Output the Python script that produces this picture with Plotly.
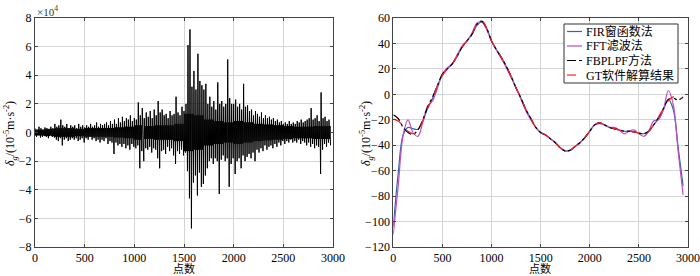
import plotly.graph_objects as go
from plotly.subplots import make_subplots

# ---------------- left: raw signal (units of 1e4) ----------------
sig_step = 20
sig_upper = [
    0.3,0.2,0.4,0.3,0.2,0.35,0.3,0.25,0.4,0.3,
    0.6,0.4,0.5,0.9,0.5,0.4,0.6,0.3,0.5,0.4,
    0.5,0.3,0.6,0.4,0.5,0.35,0.5,0.4,0.6,0.4,
    0.5,0.7,0.4,0.6,0.5,0.6,0.7,0.5,0.8,0.6,
    0.9,0.6,1.0,0.7,1.1,0.8,1.0,0.9,1.2,0.8,
    1.0,0.9,2.1,1.2,1.7,1.0,1.4,1.1,1.5,1.0,
    1.6,1.2,2.2,1.4,1.6,1.2,1.3,1.0,1.5,1.2,
    1.3,2.5,1.4,1.2,1.8,1.5,2.0,6.1,7.2,3.2,
    4.3,3.0,5.5,3.6,3.3,3.0,3.4,2.0,2.5,1.8,
    2.2,1.6,3.5,2.0,2.2,1.8,2.0,5.1,2.4,2.0,
    2.0,2.3,1.8,2.0,1.6,3.4,1.8,1.9,1.5,1.6,
    1.2,1.5,1.3,1.1,1.4,1.0,1.2,1.0,1.1,0.9,
    1.0,0.8,0.9,0.7,0.8,0.6,0.7,0.6,0.8,0.6,
    0.7,0.6,0.8,0.7,0.9,0.7,0.8,0.9,1.0,1.7,
    0.9,1.0,1.2,0.8,2.8,1.0,1.1,0.8,0.9,
]
sig_lower = [
    -0.3,-0.2,-0.35,-0.3,-0.25,-0.3,-0.4,-0.2,-0.3,-0.35,
    -0.5,-0.6,-0.4,-0.9,-0.5,-0.4,-0.6,-0.5,-0.4,-0.5,
    -0.4,-0.6,-0.5,-0.4,-0.7,-0.4,-0.5,-0.3,-0.5,-0.4,
    -0.6,-0.5,-0.7,-0.5,-0.6,-0.4,-0.8,-0.6,-0.7,-1.5,
    -0.7,-0.9,-0.8,-1.0,-0.8,-1.1,-0.9,-1.2,-0.8,-1.0,
    -1.1,-0.9,-2.5,-1.3,-2.0,-1.1,-1.2,-1.0,-1.4,-1.1,
    -1.2,-1.8,-2.5,-1.3,-1.2,-1.5,-1.0,-1.3,-1.1,-1.6,
    -2.2,-1.3,-1.5,-1.2,-1.6,-1.4,-2.7,-4.6,-6.7,-3.5,
    -3.0,-4.4,-2.8,-3.8,-3.6,-3.0,-2.5,-2.0,-1.8,-2.2,
    -1.8,-2.0,-4.3,-1.9,-1.6,-2.0,-1.8,-3.8,-2.2,-1.8,
    -2.9,-2.0,-1.8,-2.5,-1.6,-2.0,-1.7,-1.5,-1.8,-1.4,
    -2.0,-1.2,-1.4,-1.1,-1.3,-0.9,-1.2,-1.0,-0.9,-1.1,
    -0.8,-1.0,-0.7,-0.9,-0.6,-0.8,-0.6,-0.7,-0.5,-0.7,
    -0.6,-0.7,-0.5,-0.8,-0.6,-0.7,-0.9,-0.7,-1.0,-0.8,
    -1.1,-0.9,-1.0,-2.9,-1.2,-0.8,-1.0,-0.7,-0.9,
]
# dense core band half-width, one value per 100 points
sig_core = [0.2, 0.25, 0.3, 0.3, 0.25, 0.3, 0.3, 0.3, 0.35, 0.4,
            0.5, 0.45, 0.5, 0.5, 0.6, 1.3, 1.2, 0.9, 0.8, 0.7,
            0.8, 0.7, 0.6, 0.55, 0.5, 0.45, 0.4, 0.4, 0.45, 0.45]

# ---------------- right: filtered results ----------------
flt_x = list(range(0, 3000, 50))
gt_vals = [-19.5,-21,-25,-29,-31,-29,-21,-11,-3,7,
           15,20,24,30,37,42,47,55,58,52,
           42,35,29,22,14,5,-3,-12,-19,-26,
           -30,-32,-35,-38,-42,-44.5,-44,-41,-38,-34,
           -29,-24,-22.5,-24,-26,-27,-28,-29,-29,-29.5,
           -30.5,-31,-29,-24,-18,-11,-5,-2,-1.5,-3]
fbplpf_vals = [-16,-19,-26,-30,-31.5,-28,-20,-10,-2,7,
               16,20,24,30,37,42,47,55,57.5,52,
               42,35,29,22,14,5,-3,-12,-19,-26,
               -30,-32,-35,-38,-42,-44.5,-44,-41,-38,-34,
               -29,-24,-22.5,-24,-26,-27,-28,-29,-29,-29.5,
               -30.5,-31,-29,-24,-18,-11,-4,-3,-4.5,-2]
fir_vals = [-104,-62,-32,-26,-27,-27.5,-21,-11,-3,7,
            15,20,24,30,37,42,47,54,57,52,
            42,35,29,22,14,5,-3,-12,-19,-26,
            -30,-32,-35,-38,-42,-44.5,-44,-41,-38,-34,
            -29,-24,-22.5,-24,-26,-27,-28,-29,-29,-29.5,
            -30.5,-31,-29,-24,-19,-12,-4,-12,-42,-72]
fft_vals = [-110,-72,-32,-20,-30,-33,-22,-9,-5,5,
            16,21,24,31,38,42,48,56,57,51,
            42,35,28,21,13,5,-4,-13,-20,-26,
            -30,-32,-35,-38,-42,-44.5,-44,-41,-38,-34,
            -29,-24,-23,-24,-26,-26,-28,-31,-29,-28,
            -31,-33,-29,-21,-20,-12,3,-8,-45,-79]

series_names = ["FIR窗函数法", "FFT滤波法", "FBPLPF方法", "GT软件解算结果"]
series_colors = ["#3a5fa8", "#b84fc0", "black", "#ff2020"]
series_dash = ["solid", "solid", "dashdot", "dash"]

x_ticks = [0, 500, 1000, 1500, 2000, 2500, 3000]
left_y_ticks = [-8, -6, -4, -2, 0, 2, 4, 6, 8]
right_y_ticks = [-120, -100, -80, -60, -40, -20, 0, 20, 40, 60]

# build zigzag trace from envelopes
sx, sy = [], []
for i, (u, l) in enumerate(zip(sig_upper, sig_lower)):
    x0 = i * sig_step
    c = sig_core[min(x0 // 100, len(sig_core) - 1)]
    sx += [x0, x0 + 5, x0 + 10, x0 + 15]
    sy += [u, -c, c, l]

W, H = 700, 276
ml, mr, mt, mb = 35, 12, 18, 29
pw = W - ml - mr
ph = H - mt - mb

def px_x(p):
    return (p - ml) / pw

def px_y(p):
    return 1 - (p - mt) / ph

fig = make_subplots(rows=1, cols=2)
fig.add_trace(go.Scatter(x=sx, y=sy, mode="lines", line=dict(color="black", width=1.0),
                         showlegend=False), row=1, col=1)

for name, vals, col, dsh in zip(series_names, [fir_vals, fft_vals, fbplpf_vals, gt_vals],
                                series_colors, series_dash):
    fig.add_trace(go.Scatter(x=flt_x, y=vals, mode="lines", name=name, showlegend=False,
                             line=dict(color=col, width=1.2, dash=dsh, shape="spline")),
                  row=1, col=2)

serif = "Liberation Serif"
cjk = "Noto Sans CJK SC"
axis_common = dict(showgrid=True, gridcolor="#d4d4d4", gridwidth=1,
                   showline=True, linecolor="#444", linewidth=1, mirror="ticks",
                   ticks="inside", ticklen=3, tickcolor="#444", zeroline=False,
                   automargin=False,
                   tickfont=dict(family=serif, size=12, color="black"))

ldom = [0, px_x(333)]
rdom = [px_x(393.3), 1]
fig.update_xaxes(**axis_common, range=[0, 3000], tickvals=x_ticks, domain=ldom, row=1, col=1)
fig.update_xaxes(**axis_common, range=[0, 3000], tickvals=x_ticks, domain=rdom, row=1, col=2)
fig.update_yaxes(**axis_common, range=[-8, 8], tickvals=left_y_ticks, row=1, col=1)
fig.update_yaxes(**axis_common, range=[-120, 60], tickvals=right_y_ticks, row=1, col=2)

ytitle = "<i>δ</i><sub><i>g</i></sub>/(10<sup>-5</sup>m·s<sup>-2</sup>)"
for xc in (10, 366):
    fig.add_annotation(text=ytitle, xref="paper", yref="paper", x=px_x(xc), y=px_y(134),
                       xanchor="center", yanchor="middle", textangle=-90, showarrow=False,
                       font=dict(family=serif, size=12, color="black"))
for xc in (184, 540):
    fig.add_annotation(text="点数", xref="paper", yref="paper", x=px_x(xc), y=px_y(268),
                       xanchor="center", yanchor="middle", showarrow=False,
                       font=dict(family=cjk, size=11, color="black"))

fig.add_annotation(text="×10<sup>4</sup>", xref="paper", yref="paper", x=0, y=1,
                   xanchor="left", yanchor="bottom", showarrow=False,
                   font=dict(family=serif, size=11, color="#333"), yshift=-2)

# manual legend box
lx0, lx1, ly0, ly1 = 564, 678, 24, 83
fig.add_shape(type="rect", xref="paper", yref="paper", x0=px_x(lx0), x1=px_x(lx1),
              y0=px_y(ly1), y1=px_y(ly0), line=dict(color="#333", width=1), fillcolor="white",
              layer="above")
for k, (name, col, dsh) in enumerate(zip(series_names, series_colors, series_dash)):
    yc = 31.5 + k * 14.5
    fig.add_shape(type="line", xref="paper", yref="paper", x0=px_x(567), x1=px_x(582),
                  y0=px_y(yc), y1=px_y(yc), line=dict(color=col, width=1.2, dash=dsh),
                  layer="above")
    fig.add_annotation(text=name, xref="paper", yref="paper", x=px_x(584), y=px_y(yc),
                       xanchor="left", yanchor="middle", showarrow=False,
                       font=dict(family="Liberation Serif, " + cjk, size=12, color="black"))

fig.update_layout(
    width=W, height=H, margin=dict(l=ml, r=mr, t=mt, b=mb),
    paper_bgcolor="white", plot_bgcolor="white", showlegend=False,
)
fig.write_html("out.html", config={"displayModeBar": False},
               post_script="document.body.style.margin='0';document.body.style.padding='0';")
